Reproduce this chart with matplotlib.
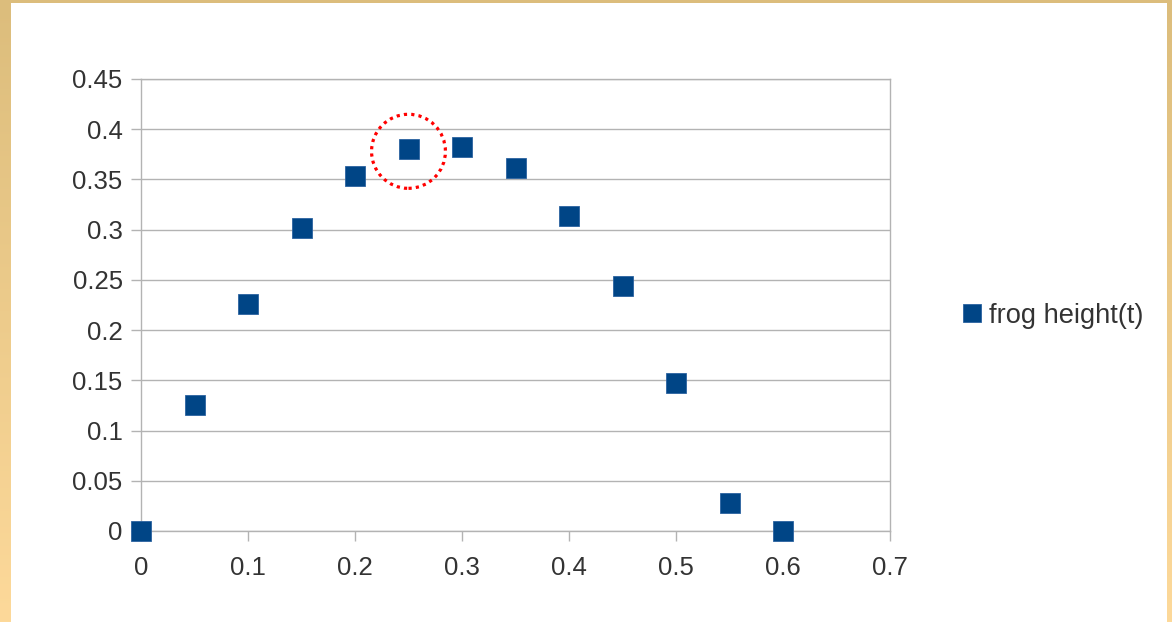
import numpy as np
import matplotlib
matplotlib.use("Agg")
import matplotlib.pyplot as plt
from matplotlib.patches import Ellipse

# Frog jump: height over time
time_s = [0.0, 0.05, 0.1, 0.15, 0.2, 0.25, 0.3, 0.35, 0.4, 0.45, 0.5, 0.55, 0.6]
height = [0.0, 0.125, 0.226, 0.302, 0.353, 0.380, 0.382, 0.361, 0.314, 0.244, 0.147, 0.028, 0.0]
series_name = "frog height(t)"
x_ticks = [0, 0.1, 0.2, 0.3, 0.4, 0.5, 0.6, 0.7]
x_tick_labels = ["0", "0.1", "0.2", "0.3", "0.4", "0.5", "0.6", "0.7"]
y_ticks = [0, 0.05, 0.1, 0.15, 0.2, 0.25, 0.3, 0.35, 0.4, 0.45]
y_tick_labels = ["0", "0.05", "0.1", "0.15", "0.2", "0.25", "0.3", "0.35", "0.4", "0.45"]
highlight_t = 0.25
highlight_h = 0.378

plt.rcParams["font.family"] = ["Liberation Sans", "DejaVu Sans"]

W, H = 1172, 622
fig = plt.figure(figsize=(W / 100, H / 100), dpi=100)
fig.patch.set_facecolor("white")

# Gold slide frame: gradient strip on the left, thin strips top and right
frame = np.ones((H, W, 3))
top_col = np.array([0xdc, 0xbd, 0x7c]) / 255.0
bot_col = np.array([0xfd, 0xd9, 0x9a]) / 255.0
t = np.linspace(0, 1, H)[:, None]
grad = top_col[None, :] * (1 - t) + bot_col[None, :] * t
frame[:, :11, :] = grad[:, None, :]
frame[:, 1167:, :] = grad[:, None, :]
frame[:3, :, :] = top_col
fig.figimage(frame, xo=0, yo=0, origin="upper", zorder=0)

ax = fig.add_axes([141 / W, 1 - 531 / H, (890 - 141) / W, (531 - 79) / H])
ax.set_facecolor("none")
ax.set_zorder(2)

grid_col = "#b3b3b3"
text_col = "#333333"

ax.set_xlim(0, 0.7)
ax.set_ylim(0, 0.45)
ax.set_xticks(x_ticks)
ax.set_xticklabels(x_tick_labels)
ax.set_yticks(y_ticks)
ax.set_yticklabels(y_tick_labels)
ax.yaxis.grid(True, color=grid_col, linewidth=1.0)
ax.set_axisbelow(True)
for side in ["left", "right", "top", "bottom"]:
    ax.spines[side].set_color(grid_col)
    ax.spines[side].set_linewidth(1.0)
ax.tick_params(axis="both", direction="out", length=7.2, width=1.0,
               color=grid_col, labelcolor=text_col, labelsize=18.5)
ax.tick_params(axis="x", pad=10.5)
ax.tick_params(axis="y", pad=6)

ax.plot(time_s, height, linestyle="none", marker="s", markersize=13.7,
        markerfacecolor="#004586", markeredgecolor="#2b62a0",
        markeredgewidth=0.6, clip_on=False, zorder=3, label=series_name)

# Dotted red ring around the highlighted sample
ring = Ellipse((highlight_t, highlight_h), width=0.069, height=0.0737,
               fill=False, edgecolor="#ff0000", linewidth=2.3,
               linestyle=(0, (1, 1.3)), zorder=4)
ax.add_patch(ring)

fig.legend(loc="center left", bbox_to_anchor=(939 / W, 1 - 316 / H),
           frameon=False, fontsize=19.6, handlelength=0.6, handletextpad=0.35,
           markerscale=0.92, labelcolor=text_col)

fig.savefig("out.png", dpi=100)
